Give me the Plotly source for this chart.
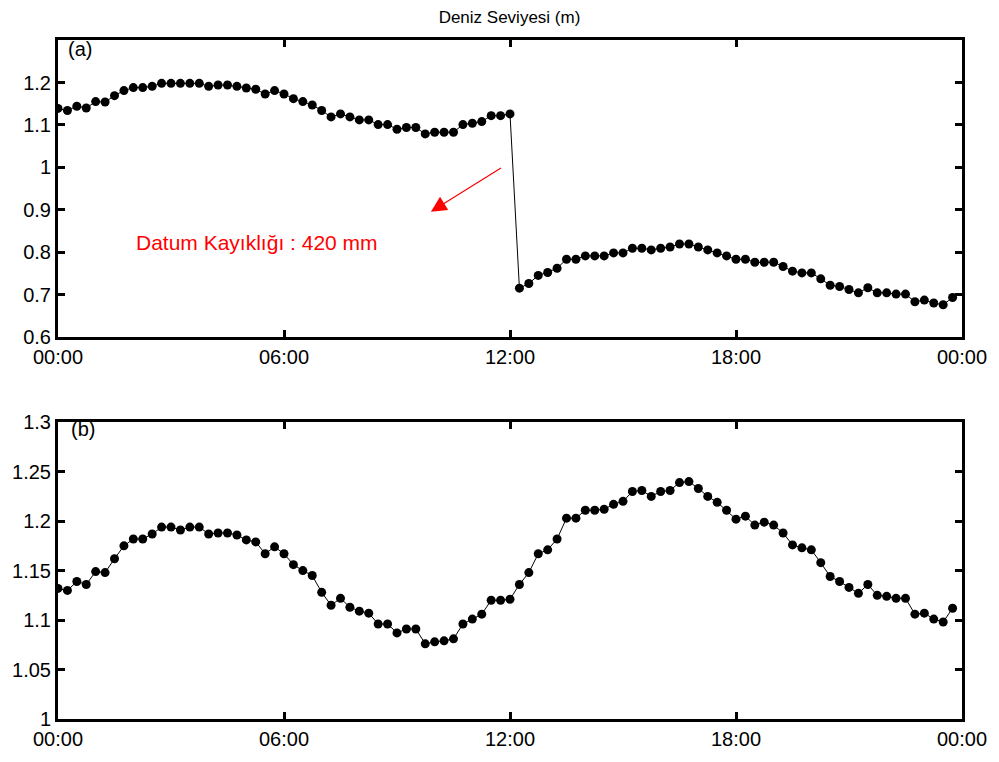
import plotly.graph_objects as go

# sample times in hours (15-minute sampling, 96 samples)
hours = [i * 0.25 for i in range(96)]

# (a) raw sea level (m) with datum shift at 12:15
level_raw = [
    1.139, 1.134, 1.144, 1.140, 1.155, 1.154, 1.169, 1.181, 1.188, 1.188,
    1.191, 1.198, 1.198, 1.198, 1.198, 1.198, 1.191, 1.194, 1.194, 1.191,
    1.187, 1.184, 1.173, 1.181, 1.173, 1.162, 1.155, 1.147, 1.134, 1.119,
    1.126, 1.119, 1.112, 1.112, 1.101, 1.101, 1.090, 1.094, 1.094, 1.079,
    1.083, 1.083, 1.083, 1.101, 1.104, 1.108, 1.122, 1.122, 1.126, 0.716,
    0.727, 0.746, 0.753, 0.763, 0.784, 0.784, 0.792, 0.792, 0.792, 0.799,
    0.799, 0.810, 0.810, 0.806, 0.810, 0.813, 0.820, 0.820, 0.813, 0.806,
    0.799, 0.792, 0.784, 0.784, 0.777, 0.777, 0.777, 0.767, 0.756, 0.752,
    0.752, 0.738, 0.723, 0.720, 0.713, 0.705, 0.717, 0.705, 0.705, 0.702,
    0.702, 0.684, 0.688, 0.681, 0.677, 0.694,
]

# (b) corrected sea level (m)
level_corr = [
    1.132, 1.130, 1.139, 1.136, 1.149, 1.148, 1.162, 1.175, 1.182, 1.182,
    1.187, 1.194, 1.194, 1.191, 1.194, 1.194, 1.187, 1.188, 1.188, 1.186,
    1.181, 1.179, 1.167, 1.174, 1.167, 1.156, 1.150, 1.145, 1.128, 1.115,
    1.122, 1.113, 1.109, 1.107, 1.096, 1.096, 1.087, 1.091, 1.091, 1.076,
    1.078, 1.079, 1.081, 1.096, 1.101, 1.106, 1.120, 1.120, 1.121, 1.136,
    1.148, 1.167, 1.171, 1.182, 1.203, 1.203, 1.211, 1.211, 1.212, 1.217,
    1.220, 1.230, 1.231, 1.225, 1.230, 1.231, 1.239, 1.240, 1.233, 1.225,
    1.219, 1.211, 1.202, 1.205, 1.196, 1.199, 1.196, 1.188, 1.176, 1.173,
    1.171, 1.158, 1.144, 1.139, 1.133, 1.127, 1.136, 1.125, 1.124, 1.122,
    1.122, 1.106, 1.107, 1.101, 1.098, 1.112,
]

x_tickvals = [0, 6, 12, 18, 24]
x_ticktext = ["00:00", "06:00", "12:00", "18:00", "00:00"]
ya_tickvals = [0.6, 0.7, 0.8, 0.9, 1.0, 1.1, 1.2]
ya_ticktext = ["0.6", "0.7", "0.8", "0.9", "1", "1.1", "1.2"]
yb_tickvals = [1.0, 1.05, 1.1, 1.15, 1.2, 1.25, 1.3]
yb_ticktext = ["1", "1.05", "1.1", "1.15", "1.2", "1.25", "1.3"]

FONT = "Liberation Sans, Arial, sans-serif"

fig = go.Figure()
trace_style = dict(mode="lines+markers",
                   line=dict(color="black", width=1),
                   marker=dict(color="black", size=9),
                   showlegend=False, hoverinfo="skip")
fig.add_trace(go.Scatter(x=hours, y=level_raw, xaxis="x", yaxis="y", **trace_style))
fig.add_trace(go.Scatter(x=hours, y=level_corr, xaxis="x2", yaxis="y2", **trace_style))

axis_common = dict(showline=True, linecolor="black", linewidth=3, mirror="ticks",
                   ticks="inside", ticklen=7, tickwidth=2.5, tickcolor="black",
                   showgrid=False, zeroline=False,
                   tickfont=dict(family=FONT, size=20, color="black"))

fig.update_layout(
    width=999, height=762,
    margin=dict(l=56, r=36, t=40, b=35),
    paper_bgcolor="white", plot_bgcolor="white",
    title=dict(text="Deniz Seviyesi (m)", x=0.51, xanchor="center", y=0.978, yanchor="middle",
               font=dict(family=FONT, size=17, color="black")),
    xaxis=dict(domain=[0, 1], range=[0, 24], anchor="y",
               tickvals=x_tickvals, ticktext=x_ticktext, **axis_common),
    yaxis=dict(domain=[0.5619, 1.0], range=[0.6, 1.3], anchor="x",
               tickvals=ya_tickvals, ticktext=ya_ticktext, **axis_common),
    xaxis2=dict(domain=[0, 1], range=[0, 24], anchor="y2",
                tickvals=x_tickvals, ticktext=x_ticktext, **axis_common),
    yaxis2=dict(domain=[0, 0.4371], range=[1.0, 1.3], anchor="x2",
                tickvals=yb_tickvals, ticktext=yb_ticktext, **axis_common),
)

fig.add_annotation(x=0.22, y=1.278, xref="x", yref="y", text="(a)", showarrow=False,
                   xanchor="left", yanchor="middle",
                   font=dict(family=FONT, size=20, color="black"))
fig.add_annotation(x=0.28, y=1.293, xref="x2", yref="y2", text="(b)", showarrow=False,
                   xanchor="left", yanchor="middle",
                   font=dict(family=FONT, size=20, color="black"))
fig.add_annotation(x=9.90, y=0.896, xref="x", yref="y", ax=11.80, ay=1.001,
                   axref="x", ayref="y", text="", showarrow=True,
                   arrowhead=2, arrowsize=2.6, arrowwidth=1.2, arrowcolor="red")
fig.add_annotation(x=5.27, y=0.824, xref="x", yref="y", text="Datum Kayıklığı : 420 mm",
                   showarrow=False, xanchor="center", yanchor="middle",
                   font=dict(family=FONT, size=21, color="red"))

fig.write_html("out.html")
